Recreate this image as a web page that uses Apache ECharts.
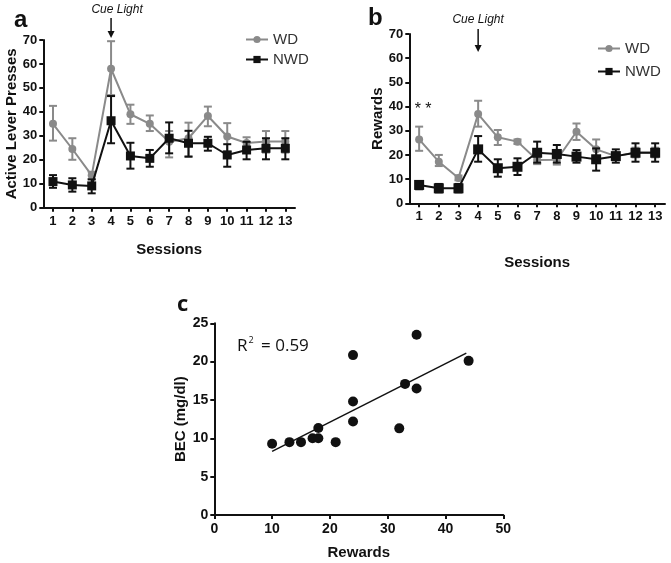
<!DOCTYPE html>
<html>
<head>
<meta charset="utf-8">
<script src="https://cdn.jsdelivr.net/npm/echarts@6/dist/echarts.min.js"></script>
<style>html,body{margin:0;padding:0;background:#fff;}#c{width:671px;height:563px;}</style>
</head>
<body>
<div id="c"></div>
<script>
// ---------- DATA ----------
const sessions = ['1','2','3','4','5','6','7','8','9','10','11','12','13'];

// Panel a: Active Lever Presses
const wdPress     = [35, 24.5, 13.5, 58, 39, 35, 27.5, 29, 38.3, 29.7, 27, 27.6, 27.6];
const wdPressLo   = [28, 20, 12, 47, 35, 32, 21, 21.4, 34, 23.5, 24.5, 23, 23];
const wdPressHi   = [42.5, 29, 15, 69.5, 43, 38.5, 32, 35.5, 42.2, 35.3, 29.4, 32, 32];
const nwdPress    = [10.9, 9.5, 9.1, 36.3, 21.6, 20.6, 29, 26.9, 26.9, 22, 24.1, 24.8, 24.8];
const nwdPressLo  = [8.3, 6.7, 6, 26.9, 16.3, 17.1, 22.7, 21.3, 23.8, 17.1, 20.2, 20.2, 20.2];
const nwdPressHi  = [13.6, 12.3, 11.8, 46.6, 27.1, 24.1, 35.6, 32.1, 29.6, 26.5, 27.5, 29, 29];

// Panel b: Rewards
const wdRew       = [26.4, 17.2, 10.5, 36.9, 27.3, 25.5, 17.9, 18, 29.6, 22.3, 19.5, 21, 21];
const wdRewLo     = [21.7, 15.4, 9.5, 31.7, 24.1, 24.5, 16.2, 16, 26.2, 19.3, 18.5, 19, 19];
const wdRewHi     = [31.7, 20, 11.5, 42.4, 30.3, 26.4, 19.3, 20, 33, 26.4, 21, 23, 23];
const nwdRew      = [7.6, 6.2, 6.2, 22.3, 14.5, 15.1, 20.9, 20.4, 19.3, 18.2, 19.5, 20.9, 20.9];
const nwdRewLo    = [5.8, 4.5, 4.5, 17.2, 11, 11.7, 16.8, 16.8, 16.8, 13.5, 16.8, 17.2, 17.2];
const nwdRewHi    = [8.9, 8, 8, 27.8, 18.2, 18.6, 25.5, 24.1, 22, 22.7, 22.3, 24.8, 24.8];

// Panel c: BEC vs Rewards
const scatterRewards = [10, 13, 15, 17, 18, 18, 21, 24, 24, 24, 32, 33, 35, 35, 44];
const scatterBEC     = [9.3, 9.5, 9.5, 10, 10, 11.35, 9.5, 12.2, 14.8, 20.85, 11.3, 17.1, 16.5, 23.5, 20.1];
const fitX = [10, 43.6];
const fitY = [8.3, 21.1];

// ---------- CHART ----------
const GRAY = '#8a8a8a';
const BLACK = '#111';
const FONT = '"Liberation Sans", Arial, sans-serif';

function errRender(color) {
  return function (params, api) {
    const x = api.value(0);
    const lo = api.coord([x, api.value(1)]);
    const hi = api.coord([x, api.value(2)]);
    const w = 4;
    const st = { stroke: color, lineWidth: 2 };
    return {
      type: 'group',
      children: [
        { type: 'line', shape: { x1: lo[0], y1: lo[1], x2: hi[0], y2: hi[1] }, style: st },
        { type: 'line', shape: { x1: lo[0] - w, y1: lo[1], x2: lo[0] + w, y2: lo[1] }, style: st },
        { type: 'line', shape: { x1: hi[0] - w, y1: hi[1], x2: hi[0] + w, y2: hi[1] }, style: st }
      ]
    };
  };
}
function errData(lo, hi) { return sessions.map((s, i) => [i, lo[i], hi[i]]); }

const axisLineStyle = { show: true, lineStyle: { color: BLACK, width: 2 } };
const tickStyle = { show: true, length: 4, lineStyle: { color: BLACK, width: 2 } };
const labelStyle = { color: BLACK, fontWeight: 'bold', fontSize: 13, fontFamily: FONT };
const nameStyle = { color: BLACK, fontWeight: 'bold', fontSize: 15, fontFamily: FONT };

function catAxis(gi, gap) {
  return {
    type: 'category', gridIndex: gi, data: sessions, boundaryGap: true,
    axisLine: axisLineStyle, axisTick: Object.assign({ alignWithLabel: true }, tickStyle),
    axisLabel: Object.assign({ margin: 7, interval: 0 }, labelStyle),
    splitLine: { show: false },
    name: 'Sessions', nameLocation: 'middle', nameGap: gap, nameTextStyle: nameStyle
  };
}
function valAxis(gi, name, gap) {
  return {
    type: 'value', gridIndex: gi, min: 0, max: 70, interval: 10,
    axisLine: axisLineStyle, axisTick: tickStyle,
    axisLabel: Object.assign({ margin: 6 }, labelStyle),
    splitLine: { show: false },
    name: name, nameLocation: 'middle', nameGap: gap, nameTextStyle: nameStyle
  };
}

const chart = echarts.init(document.getElementById('c'), null, { renderer: 'canvas' });

const option = {
  animation: false,
  backgroundColor: '#fff',
  textStyle: { fontFamily: FONT },
  grid: [
    { left: 43.3, top: 40, width: 251.7, height: 167.7 },
    { left: 409.3, top: 34, width: 255.7, height: 169.3 },
    { left: 214.3, top: 323.3, width: 289, height: 191.7 }
  ],
  xAxis: [
    catAxis(0, 35),
    catAxis(1, 52),
    {
      type: 'value', gridIndex: 2, min: 0, max: 50, interval: 10,
      axisLine: axisLineStyle, axisTick: tickStyle,
      axisLabel: Object.assign({ margin: 7 }, labelStyle, { fontSize: 14 }),
      splitLine: { show: false },
      name: 'Rewards', nameLocation: 'middle', nameGap: 30, nameTextStyle: nameStyle
    }
  ],
  yAxis: [
    valAxis(0, 'Active Lever Presses', 24),
    valAxis(1, 'Rewards', 22),
    {
      type: 'value', gridIndex: 2, min: 0, max: 25, interval: 5,
      axisLine: axisLineStyle, axisTick: tickStyle,
      axisLabel: Object.assign({ margin: 6 }, labelStyle, { fontSize: 14 }),
      splitLine: { show: false },
      name: 'BEC (mg/dl)', nameLocation: 'middle', nameGap: 25, nameTextStyle: nameStyle
    }
  ],
  legend: [
    {
      data: ['WD', 'NWD'], orient: 'vertical', left: 240, top: 27, itemWidth: 22, itemHeight: 9,
      itemGap: 5, selectedMode: false,
      textStyle: { fontSize: 15, color: '#333', fontFamily: FONT }
    },
    {
      data: ['WD', 'NWD'], orient: 'vertical', left: 592, top: 36, itemWidth: 22, itemHeight: 9,
      itemGap: 8, selectedMode: false,
      textStyle: { fontSize: 15, color: '#333', fontFamily: FONT }
    }
  ],
  series: [
    // Panel a
    { type: 'custom', xAxisIndex: 0, yAxisIndex: 0, renderItem: errRender(GRAY), data: errData(wdPressLo, wdPressHi), z: 2 },
    { name: 'WD', type: 'line', xAxisIndex: 0, yAxisIndex: 0, data: wdPress, symbol: 'circle', symbolSize: 8,
      lineStyle: { color: GRAY, width: 2 }, itemStyle: { color: GRAY }, z: 3 },
    { type: 'custom', xAxisIndex: 0, yAxisIndex: 0, renderItem: errRender(BLACK), data: errData(nwdPressLo, nwdPressHi), z: 4 },
    { name: 'NWD', type: 'line', xAxisIndex: 0, yAxisIndex: 0, data: nwdPress, symbol: 'rect', symbolSize: 9,
      lineStyle: { color: BLACK, width: 2 }, itemStyle: { color: BLACK }, z: 5 },
    // Panel b
    { type: 'custom', xAxisIndex: 1, yAxisIndex: 1, renderItem: errRender(GRAY), data: errData(wdRewLo, wdRewHi), z: 2 },
    { name: 'WD', type: 'line', xAxisIndex: 1, yAxisIndex: 1, data: wdRew, symbol: 'circle', symbolSize: 8,
      lineStyle: { color: GRAY, width: 2 }, itemStyle: { color: GRAY }, z: 3 },
    { type: 'custom', xAxisIndex: 1, yAxisIndex: 1, renderItem: errRender(BLACK), data: errData(nwdRewLo, nwdRewHi), z: 4 },
    { name: 'NWD', type: 'line', xAxisIndex: 1, yAxisIndex: 1, data: nwdRew, symbol: 'rect', symbolSize: 10,
      lineStyle: { color: BLACK, width: 2 }, itemStyle: { color: BLACK }, z: 5 },
    // Panel c
    { type: 'scatter', xAxisIndex: 2, yAxisIndex: 2, data: scatterRewards.map((x, i) => [x, scatterBEC[i]]),
      symbol: 'circle', symbolSize: 10, itemStyle: { color: BLACK, opacity: 1 } },
    { type: 'line', xAxisIndex: 2, yAxisIndex: 2, data: fitX.map((x, i) => [x, fitY[i]]), symbol: 'none',
      lineStyle: { color: BLACK, width: 1.5 } }
  ]
};
chart.setOption(option);

// annotations positioned through the axes
const cueA = chart.convertToPixel({ xAxisIndex: 0, yAxisIndex: 0 }, ['4', 70]);
const cueB = chart.convertToPixel({ xAxisIndex: 1, yAxisIndex: 1 }, ['4', 70]);
const starB = chart.convertToPixel({ xAxisIndex: 1, yAxisIndex: 1 }, ['1', 40]);

function arrow(x, y1, y2) {
  return [
    { type: 'line', shape: { x1: x, y1: y1, x2: x, y2: y2 - 5 }, style: { stroke: BLACK, lineWidth: 1.5 } },
    { type: 'polygon', shape: { points: [[x - 3.5, y2 - 7], [x + 3.5, y2 - 7], [x, y2]] }, style: { fill: BLACK } }
  ];
}

chart.setOption({
  graphic: [
    { type: 'text', left: 14, top: 8, style: { text: 'a', font: 'bold 24px ' + FONT, fill: BLACK } },
    { type: 'text', left: 368, top: 6, style: { text: 'b', font: 'bold 24px ' + FONT, fill: BLACK } },
    { type: 'text', left: 177, top: 294, style: { text: 'c', font: 'bold 22px "Open Sans", ' + FONT, fill: BLACK } },
    { type: 'text', x: cueA[0] + 6, y: 10, style: { text: 'Cue Light', font: 'italic 12px ' + FONT, fill: BLACK, align: 'center', verticalAlign: 'middle' } },
    { type: 'text', x: cueB[0], y: 20, style: { text: 'Cue Light', font: 'italic 12px ' + FONT, fill: BLACK, align: 'center', verticalAlign: 'middle' } },
    ...arrow(cueA[0], 18, 38),
    ...arrow(cueB[0], 29, 52),
    { type: 'text', x: starB[0] + 4, y: starB[1] + 3, style: { text: '* *', font: '16px ' + FONT, fill: BLACK, align: 'center', verticalAlign: 'middle' } },
    { type: 'text', left: 237, top: 336, style: {
        rich: { n: { font: '17px "Open Sans", ' + FONT, fill: BLACK }, s: { font: '9px "Open Sans", ' + FONT, fill: BLACK, verticalAlign: 'top', padding: [0, 3, 12, 1] } },
        text: '{n|R}{s|2}{n| = 0.59}' } }
  ]
});
</script>
</body>
</html>
